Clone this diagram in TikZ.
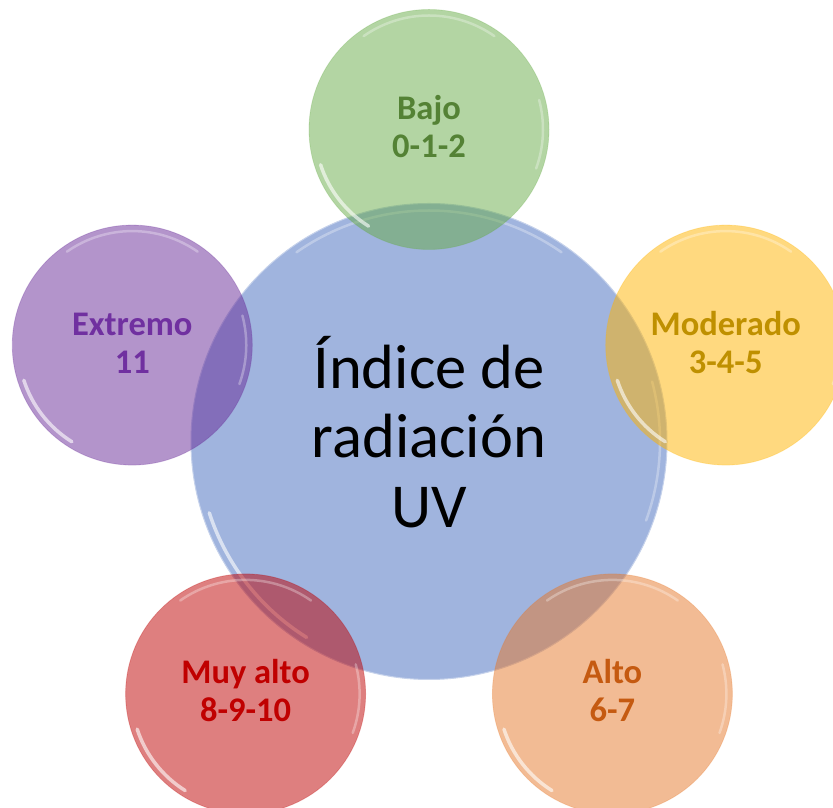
\documentclass[tikz,border=0pt]{standalone}
\usepackage{fontspec}
\setmainfont{Carlito}
\usetikzlibrary{calc}
\definecolor{cblue}{HTML}{A0B4DE}
\definecolor{cgreen}{RGB}{103,171,71}
\definecolor{cyellow}{RGB}{255,179,0}
\definecolor{cpurple}{RGB}{103,41,151}
\definecolor{cred}{RGB}{189,0,0}
\definecolor{corange}{RGB}{229,119,41}
\definecolor{tgreen}{HTML}{548235}
\definecolor{tyellow}{HTML}{BF9000}
\definecolor{tpurple}{HTML}{7030A0}
\definecolor{tred}{HTML}{C00000}
\definecolor{torange}{HTML}{C55A11}
\tikzset{
  bubble/.style={circle, inner sep=0pt, minimum size=240pt, fill opacity=0.5, draw opacity=0.25, line width=0.8pt},
  lbl/.style={anchor=base, inner sep=0pt, font=\fontsize{34.5}{38}\selectfont\bfseries},
  big/.style={anchor=base, inner sep=0pt, font=\fontsize{62.5}{70}\selectfont},
  shine/.style={white, line width=3.5pt, opacity=0.6, line cap=round},
  softshine/.style={white, line width=2.5pt, opacity=0.3, line cap=round},
}
\newcommand{\bubbleshine}[2]{%
  \draw[shine] ($(#1.center)+(198:#2)$) arc[start angle=198, end angle=238, radius=#2];
  \draw[softshine] ($(#1.center)+(55:#2)$) arc[start angle=55, end angle=125, radius=#2];
  \draw[softshine] ($(#1.center)+(-20:#2)$) arc[start angle=-20, end angle=15, radius=#2];
}
\begin{document}
\begin{tikzpicture}[x=1pt,y=1pt]
\useasboundingbox (0,0) rectangle (833,808);
\clip (0,0) rectangle (833,808);
\coordinate (O) at (429,366.5);
\node[circle, inner sep=0pt, minimum size=476pt, fill=cblue, draw=cblue!60!white, line width=1pt] (core) at (O) {};
\bubbleshine{core}{231}
\node[bubble, fill=cgreen, draw=cgreen] (bajo) at ($(O)+(90:312)$) {};
\node[bubble, fill=cyellow, draw=cyellow] (moderado) at ($(O)+(18:312)$) {};
\node[bubble, fill=corange, draw=corange] (alto) at ($(O)+(-54:312)$) {};
\node[bubble, fill=cred, draw=cred] (muyalto) at ($(O)+(234:312)$) {};
\node[bubble, fill=cpurple, draw=cpurple] (extremo) at ($(O)+(162:312)$) {};
\bubbleshine{bajo}{114}
\bubbleshine{moderado}{114}
\bubbleshine{alto}{114}
\bubbleshine{muyalto}{114}
\bubbleshine{extremo}{114}
% labels
\node[lbl, text=tgreen] (bajoA) at ([yshift=10pt]bajo.center) {Bajo};
\node[lbl, text=tgreen] (bajoB) at ([yshift=-28pt]bajo.center) {0-1-2};
\node[lbl, text=tyellow] (modA) at ([yshift=10pt]moderado.center) {Moderado};
\node[lbl, text=tyellow] (modB) at ([yshift=-28pt]moderado.center) {3-4-5};
\node[lbl, text=torange] (altoA) at ([yshift=10pt]alto.center) {Alto};
\node[lbl, text=torange] (altoB) at ([yshift=-28pt]alto.center) {6-7};
\node[lbl, text=tred] (muyA) at ([yshift=10pt]muyalto.center) {Muy alto};
\node[lbl, text=tred] (muyB) at ([yshift=-28pt]muyalto.center) {8-9-10};
\node[lbl, text=tpurple] (extA) at ([yshift=10pt]extremo.center) {Extremo};
\node[lbl, text=tpurple] (extB) at ([yshift=-28pt]extremo.center) {11};
\node[big] (coreA) at ([yshift=52.5pt]core.center) {Índice de};
\node[big] (coreB) at ([yshift=-16.5pt]core.center) {radiación};
\node[big] (coreC) at ([yshift=-86.5pt]core.center) {UV};
\end{tikzpicture}
\end{document}
